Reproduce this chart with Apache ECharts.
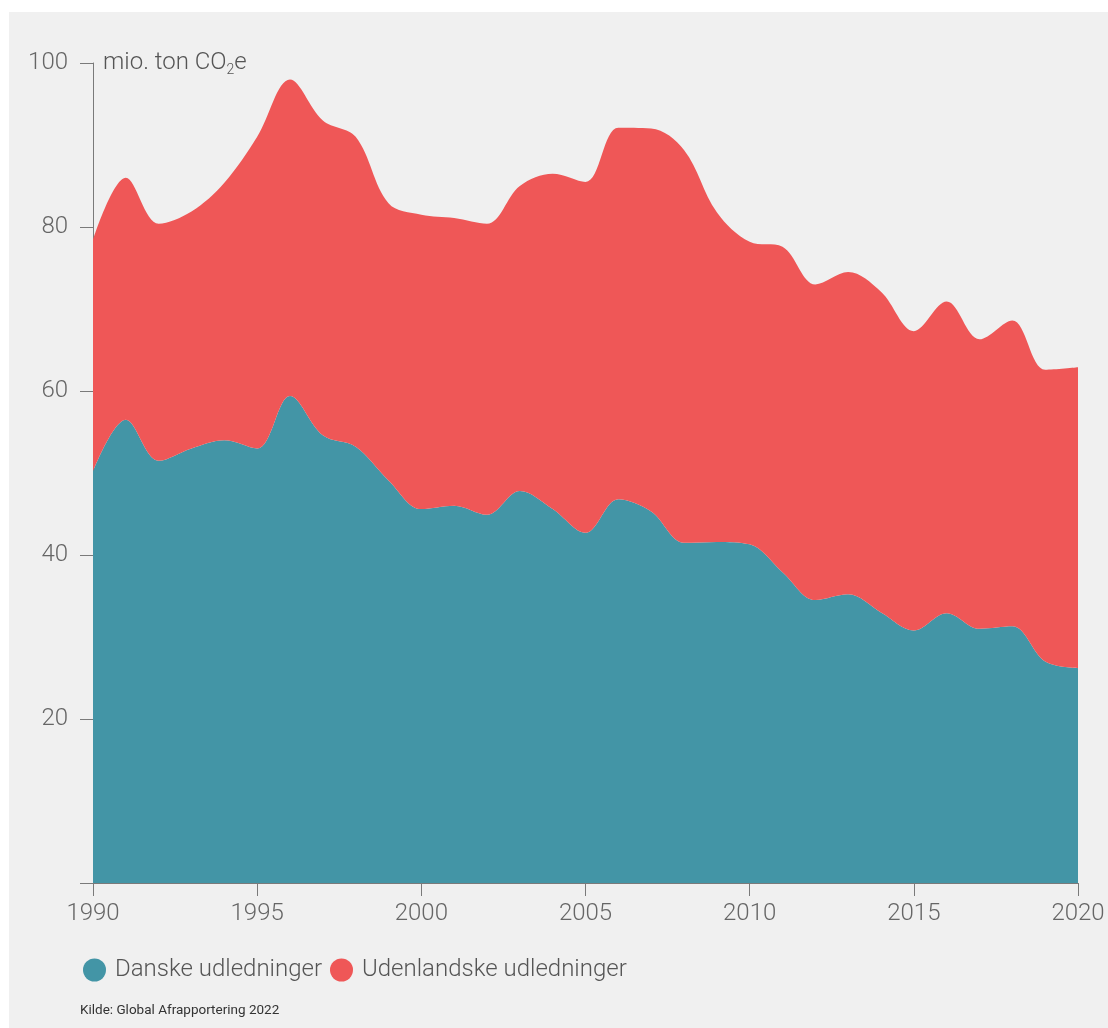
<!DOCTYPE html>
<html>
<head>
<meta charset="utf-8">
<script src="https://cdn.jsdelivr.net/npm/echarts@6/dist/echarts.min.js"></script>
<style>
  html, body { margin: 0; padding: 0; background: #ffffff; }
  #panel { position: absolute; left: 9px; top: 12px; width: 1099px; height: 1016px; background: #f0f0f0; }
  #chart { position: absolute; left: 0; top: 0; width: 1108px; height: 1028px; }
</style>
</head>
<body>
<div id="panel"></div>
<div id="chart"></div>
<script>
// år
const years = ['1990', '1991', '1992', '1993', '1994', '1995', '1996', '1997', '1998', '1999',
               '2000', '2001', '2002', '2003', '2004', '2005', '2006', '2007', '2008', '2009',
               '2010', '2011', '2012', '2013', '2014', '2015', '2016', '2017', '2018', '2019', '2020'];

// mio. ton CO2e
const danske = [50.2, 56.5, 51.5, 53.0, 54.0, 53.0, 59.4, 54.6, 53.2, 49.1,
                45.6, 46.0, 44.9, 47.8, 45.6, 42.7, 46.8, 45.3, 41.5, 41.6,
                41.3, 37.9, 34.5, 35.2, 33.0, 30.8, 32.9, 31.0, 31.3, 27.0, 26.2];

const udenlandske = [28.2, 29.5, 28.9, 28.9, 31.4, 38.0, 38.6, 38.4, 37.8, 33.8,
                     35.9, 35.1, 35.5, 37.2, 40.9, 42.8, 45.3, 46.7, 47.9, 40.2,
                     36.9, 39.7, 38.5, 39.3, 39.1, 36.5, 38.0, 35.3, 37.3, 35.6, 36.7];

const yTicks = [20, 40, 60, 80, 100];

const font = 'Roboto';
const axisColor = '#7a7a7a';
const labelColor = '#666666';

let chart = echarts.init(document.getElementById('chart'), null, { renderer: 'canvas' });

let option = {
    backgroundColor: 'transparent',
    animation: false,
    title: {
        text: 'mio. ton CO{sub|2}e',
        left: 103,
        top: 49,
        padding: 0,
        textStyle: {
            fontFamily: font,
            fontWeight: 300,
            fontSize: 24,
            color: '#555555',
            rich: {
                sub: { fontFamily: font, fontWeight: 300, fontSize: 14, color: '#555555', verticalAlign: 'bottom', padding: [14, 0, 0, 0] }
            }
        }
    },
    grid: { left: 93, right: 30, top: 63, bottom: 145 },
    xAxis: {
        type: 'category',
        data: years,
        boundaryGap: false,
        axisLine: { show: true, lineStyle: { color: axisColor, width: 1 } },
        axisTick: { show: true, length: 13, interval: 4, lineStyle: { color: axisColor } },
        axisLabel: {
            interval: 4,
            margin: 19,
            fontFamily: font, fontWeight: 300, fontSize: 24, color: labelColor
        },
        splitLine: { show: false }
    },
    yAxis: {
        type: 'value',
        min: 0,
        max: 100,
        interval: 20,
        axisLine: { show: true, lineStyle: { color: axisColor, width: 1 } },
        axisTick: { show: true, length: 13, lineStyle: { color: axisColor } },
        axisLabel: {
            margin: 25,
            fontFamily: font, fontWeight: 300, fontSize: 24, color: labelColor,
            formatter: v => (yTicks.indexOf(v) >= 0 ? String(v) : '')
        },
        splitLine: { show: false }
    },
    legend: {
        left: 83,
        top: 958,
        padding: 0,
        icon: 'circle',
        itemWidth: 23,
        itemHeight: 23,
        itemGap: 8,
        textStyle: { fontFamily: font, fontWeight: 300, fontSize: 24, color: '#555555', padding: [0, 0, 0, 4] },
        data: ['Danske udledninger', 'Udenlandske udledninger']
    },
    graphic: [{
        type: 'text',
        left: 80,
        top: 1004,
        style: { text: 'Kilde: Global Afrapportering 2022', fontFamily: font, fontSize: 13.5, fill: '#333333' }
    }],
    series: [
        {
            name: 'Danske udledninger',
            type: 'line',
            stack: 'total',
            smooth: 0.35,
            symbol: 'none',
            lineStyle: { width: 0 },
            itemStyle: { color: '#4395a6' },
            areaStyle: { color: '#4395a6', opacity: 1 },
            data: danske
        },
        {
            name: 'Udenlandske udledninger',
            type: 'line',
            stack: 'total',
            smooth: 0.35,
            symbol: 'none',
            lineStyle: { width: 0 },
            itemStyle: { color: '#ef5757' },
            areaStyle: { color: '#ef5757', opacity: 1 },
            data: udenlandske
        }
    ]
};

chart.setOption(option);
</script>
</body>
</html>
